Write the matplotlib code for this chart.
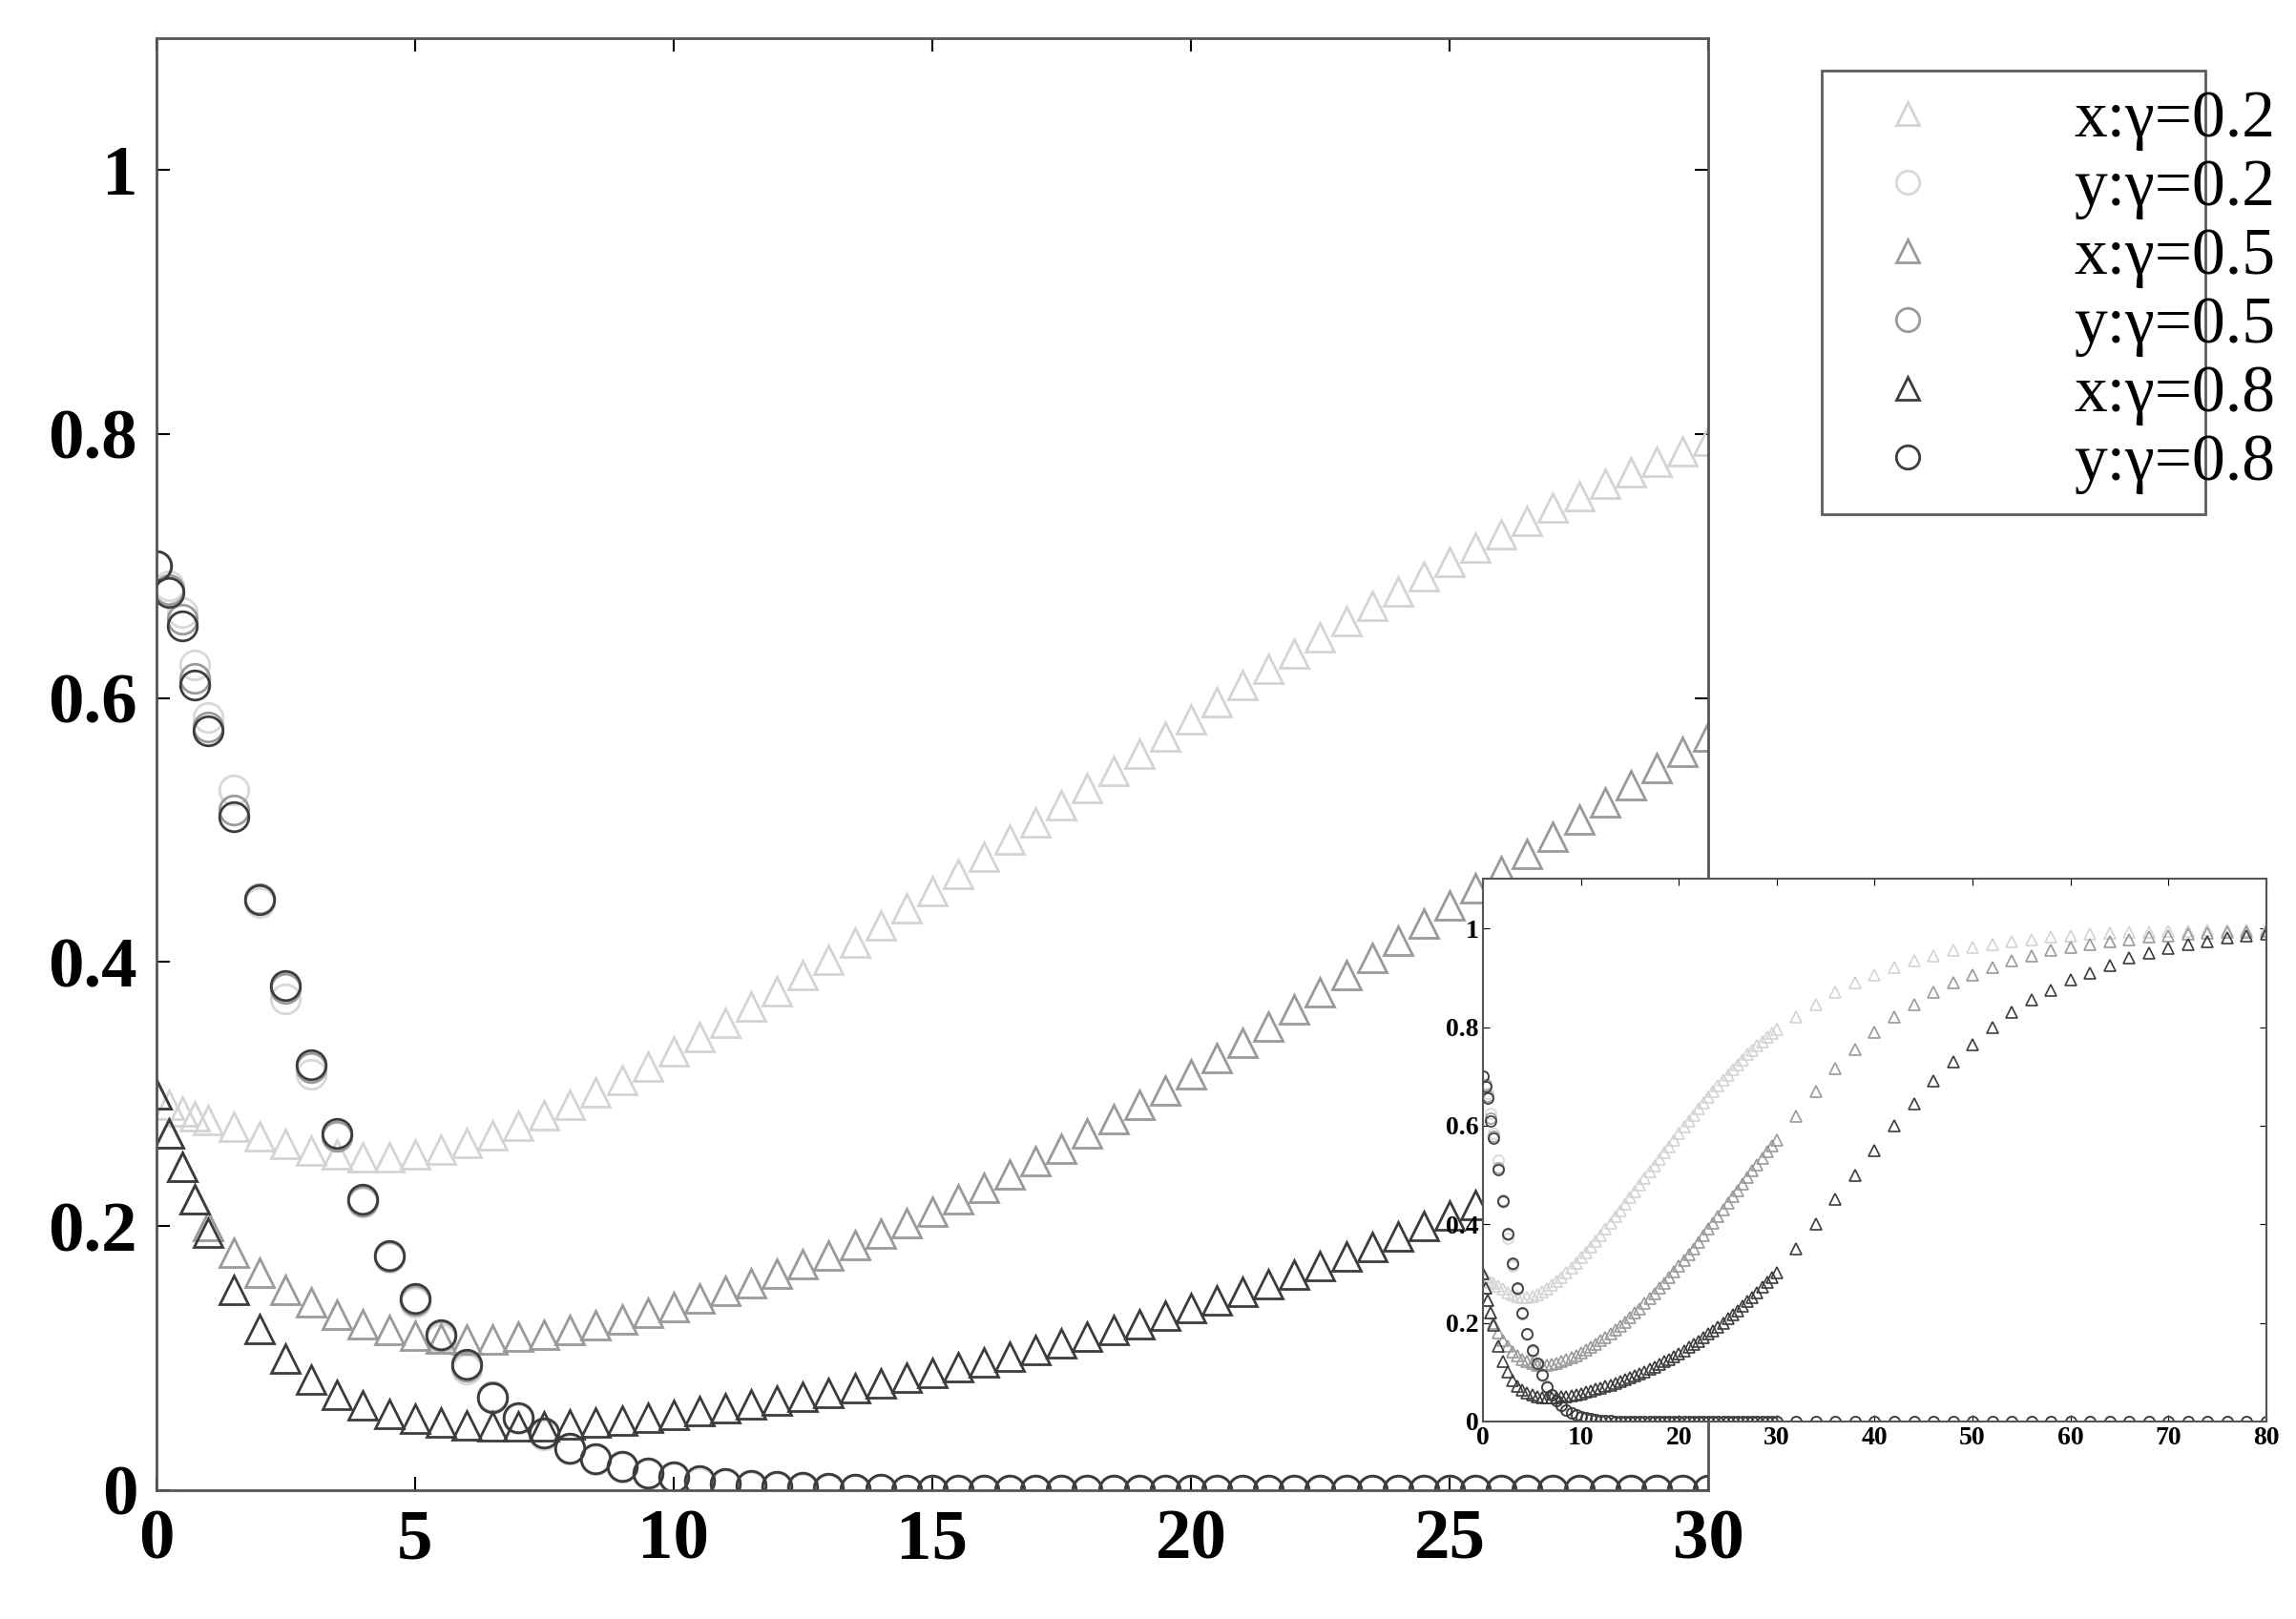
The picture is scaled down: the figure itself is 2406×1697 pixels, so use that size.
import numpy as np
import matplotlib.pyplot as plt

# time grid: dense start, then every 0.5 up to 30, then every 2 up to 80
t_head = [0, 0.25, 0.5, 0.75]
t_mid = list(np.arange(1, 30.5, 0.5))
t_tail = list(np.arange(32, 81, 2))
t = np.array(t_head + t_mid + t_tail)

x02 = [0.300, 0.292, 0.287, 0.283,
       0.280, 0.275, 0.268, 0.262, 0.257, 0.254, 0.252, 0.252, 0.254, 0.258,
       0.263, 0.269, 0.276, 0.284, 0.292, 0.301, 0.311, 0.321, 0.332, 0.343,
       0.354, 0.366, 0.378, 0.390, 0.402, 0.415, 0.428, 0.441, 0.454, 0.467,
       0.480, 0.493, 0.506, 0.519, 0.532, 0.545, 0.558, 0.571, 0.584, 0.597,
       0.610, 0.622, 0.634, 0.646, 0.658, 0.670, 0.681, 0.692, 0.703, 0.714,
       0.724, 0.734, 0.744, 0.753, 0.762, 0.771, 0.779, 0.787, 0.795,
       0.82, 0.845, 0.87, 0.89, 0.905, 0.92, 0.935, 0.945, 0.955, 0.962,
       0.968, 0.974, 0.978, 0.982, 0.985, 0.988, 0.99, 0.992, 0.993, 0.994,
       0.995, 0.996, 0.997, 0.997, 0.998]

x05 = [0.300, 0.270, 0.245, 0.220,
       0.200, 0.180, 0.165, 0.152, 0.142, 0.133, 0.126, 0.121, 0.117, 0.115,
       0.114, 0.114, 0.116, 0.118, 0.121, 0.125, 0.129, 0.134, 0.139, 0.145,
       0.151, 0.157, 0.164, 0.171, 0.178, 0.186, 0.194, 0.202, 0.211, 0.220,
       0.229, 0.239, 0.249, 0.259, 0.270, 0.281, 0.292, 0.303, 0.315, 0.327,
       0.339, 0.351, 0.364, 0.377, 0.390, 0.403, 0.416, 0.429, 0.443, 0.456,
       0.469, 0.482, 0.495, 0.508, 0.521, 0.534, 0.547, 0.559, 0.571,
       0.62, 0.67, 0.715, 0.755, 0.79, 0.82, 0.845, 0.87, 0.89, 0.905,
       0.92, 0.935, 0.945, 0.955, 0.962, 0.968, 0.974, 0.978, 0.982, 0.985,
       0.988, 0.99, 0.992, 0.993, 0.994]

x08 = [0.300, 0.270, 0.245, 0.220,
       0.195, 0.152, 0.122, 0.100, 0.084, 0.072, 0.064, 0.058, 0.054, 0.051,
       0.049, 0.048, 0.048, 0.048, 0.050, 0.051, 0.053, 0.055, 0.057, 0.060,
       0.062, 0.065, 0.068, 0.071, 0.074, 0.077, 0.081, 0.085, 0.089, 0.093,
       0.097, 0.101, 0.106, 0.111, 0.116, 0.121, 0.126, 0.132, 0.138, 0.144,
       0.150, 0.156, 0.163, 0.170, 0.177, 0.184, 0.192, 0.200, 0.208, 0.216,
       0.225, 0.234, 0.243, 0.252, 0.262, 0.272, 0.282, 0.292, 0.302,
       0.35, 0.40, 0.45, 0.50, 0.55, 0.60, 0.645, 0.69, 0.73, 0.765,
       0.80, 0.83, 0.855, 0.875, 0.895, 0.91, 0.925, 0.94, 0.95, 0.96,
       0.967, 0.974, 0.98, 0.984, 0.988]

y02_head = [0.700, 0.685, 0.665, 0.625, 0.585, 0.530, 0.445, 0.372, 0.315,
            0.268, 0.218, 0.176, 0.142, 0.115, 0.092, 0.070, 0.054, 0.042,
            0.031, 0.023, 0.017, 0.012, 0.009, 0.006, 0.004, 0.003, 0.002,
            0.0014, 0.001, 0.0006, 0.0004]
y05_head = [0.700, 0.682, 0.660, 0.615, 0.578, 0.515, 0.448, 0.380, 0.320,
            0.268, 0.219, 0.177, 0.144, 0.117, 0.094, 0.071, 0.055, 0.043,
            0.032, 0.024, 0.018, 0.013, 0.010, 0.007, 0.005, 0.0035, 0.0025,
            0.0018, 0.0012, 0.0008, 0.0005]
y08_head = [0.700, 0.680, 0.655, 0.610, 0.575, 0.510, 0.447, 0.382, 0.322,
            0.270, 0.220, 0.178, 0.145, 0.118, 0.095, 0.070, 0.055, 0.043,
            0.032, 0.024, 0.018, 0.013, 0.010, 0.007, 0.005, 0.0035, 0.0025,
            0.0018, 0.0012, 0.0008, 0.0005]
y02 = y02_head + [0.0] * (len(t) - len(y02_head))
y05 = y05_head + [0.0] * (len(t) - len(y05_head))
y08 = y08_head + [0.0] * (len(t) - len(y08_head))

series = [
    ("x:γ=0.2", x02, "^", "#d4d4d4"),
    ("y:γ=0.2", y02, "o", "#d8d8d8"),
    ("x:γ=0.5", x05, "^", "#9a9a9a"),
    ("y:γ=0.5", y05, "o", "#9a9a9a"),
    ("x:γ=0.8", x08, "^", "#3c3c3c"),
    ("y:γ=0.8", y08, "o", "#3c3c3c"),
]

plt.rcParams['font.family'] = ['Liberation Serif', 'DejaVu Serif']

fig = plt.figure(figsize=(24.06, 16.97), dpi=100)
ax = fig.add_axes([0.068, 0.0796, 0.676, 0.897])

for label, vals, mk, col in series:
    ax.plot(t, vals, linestyle="none", marker=mk, markersize=22,
            markerfacecolor="none", markeredgecolor=col, markeredgewidth=2,
            label=label)

ax.set_xlim(0, 30)
ax.set_ylim(0, 1.1)
ax.set_xticks([0, 5, 10, 15, 20, 25, 30])
ax.set_yticks([0, 0.2, 0.4, 0.6, 0.8, 1])
ax.set_yticklabels(["0", "0.2", "0.4", "0.6", "0.8", "1"])
ax.tick_params(direction="in", length=10, width=1.5, labelsize=54,
               top=True, right=True, pad=14)
for lbl in ax.get_xticklabels() + ax.get_yticklabels():
    lbl.set_fontweight("bold")
for s in ax.spines.values():
    s.set_linewidth(2)
    s.set_color("#555555")

# legend box outside the main axes, top right of the figure
leg = ax.legend(loc="upper left", bbox_to_anchor=(0.779, 0.62, 0.196, 0.357),
                bbox_transform=fig.transFigure, mode="expand",
                fontsize=50, frameon=True, fancybox=False, edgecolor="#333333",
                markerscale=0.8, handletextpad=1.5, borderpad=0.3,
                labelspacing=0.12)
leg.get_frame().set_linewidth(2)

# inset
ins = fig.add_axes([0.646, 0.122, 0.341, 0.335])
for label, vals, mk, col in series:
    ins.plot(t, vals, linestyle="none", marker=mk, markersize=8,
             markerfacecolor="none", markeredgecolor=col, markeredgewidth=1.2)
ins.set_xlim(0, 80)
ins.set_ylim(0, 1.1)
ins.set_xticks(range(0, 81, 10))
ins.set_yticks([0, 0.2, 0.4, 0.6, 0.8, 1])
ins.set_yticklabels(["0", "0.2", "0.4", "0.6", "0.8", "1"])
ins.tick_params(direction="in", length=5, labelsize=20, top=True, right=True)
for lbl in ins.get_xticklabels() + ins.get_yticklabels():
    lbl.set_fontweight("bold")
for s in ins.spines.values():
    s.set_linewidth(1.5)
    s.set_color("#555555")

fig.savefig("out.png", dpi=100)
